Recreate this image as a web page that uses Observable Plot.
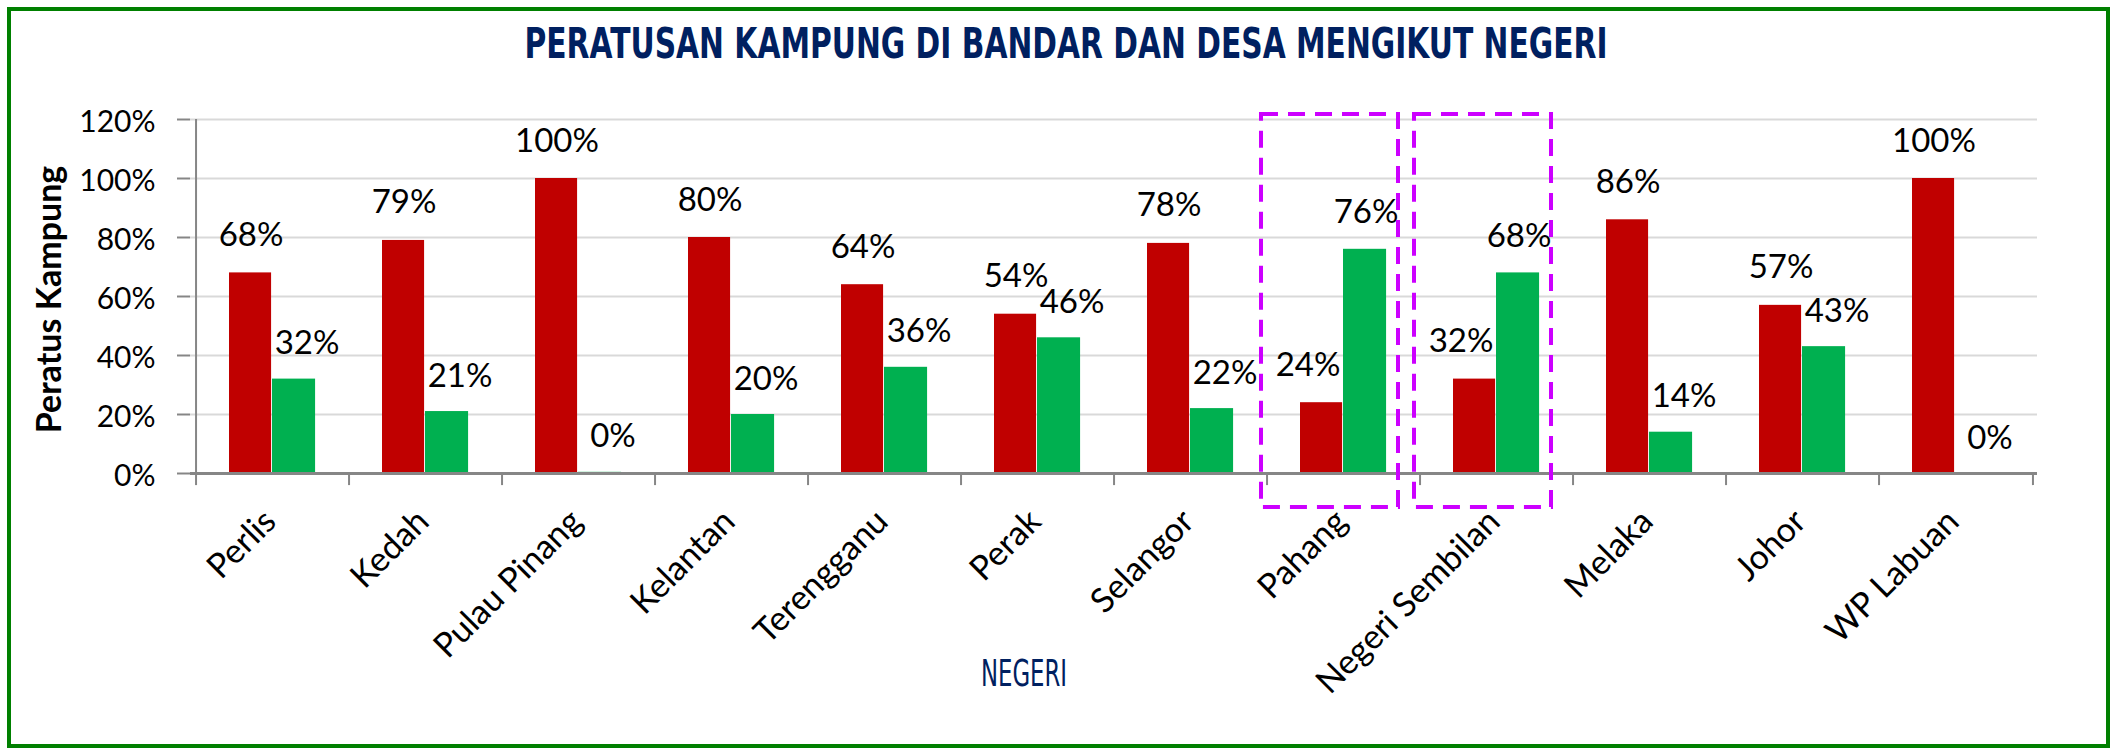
<!DOCTYPE html>
<html><head><meta charset="utf-8">
<script src="https://cdn.jsdelivr.net/npm/d3@7"></script>
<script src="https://cdn.jsdelivr.net/npm/@observablehq/plot@0.6"></script>
<style>
body{margin:0;background:#fff;}
#wrap{position:relative;width:2110px;height:748px;overflow:hidden;background:#fff;}
#chart{position:absolute;left:0;top:0;}
#overlay{position:absolute;left:0;top:0;pointer-events:none;}
#frame{position:absolute;left:7px;top:7px;width:2103px;height:741px;box-sizing:border-box;border:4px solid #008000;pointer-events:none;}
</style></head><body>
<div id="wrap"><div id="chart"></div><svg id="overlay" width="2110" height="748"></svg><div id="frame"></div></div>
<script>
// ---- data ----
const categories = ["Perlis","Kedah","Pulau Pinang","Kelantan","Terengganu","Perak","Selangor","Pahang","Negeri Sembilan","Melaka","Johor","WP Labuan"];
const bandar = [68,79,100,80,64,54,78,24,32,86,57,100];
const desa   = [32,21,0.4,20,36,46,22,76,68,14,43,0];
const yTicks = [0,20,40,60,80,100,120];
const highlighted = ["Pahang","Negeri Sembilan"];
const title = "PERATUSAN KAMPUNG DI BANDAR DAN DESA MENGIKUT NEGERI";
const xTitle = "NEGERI";
const yTitle = "Peratus Kampung";

// ---- layout ----
const W = 2110, H = 748, mL = 190, mR = 73, mT = 119, mB = 275;
const bw = (W - mL - mR) / categories.length;
const rows = categories.map((c, i) => ({negeri: c, bandar: bandar[i], desa: desa[i]}));
const pct = v => Math.round(v) + "%";
const isHi = d => highlighted.includes(d.negeri);
const axisColor = "#868686";

const chart = Plot.plot({
  width: W, height: H,
  marginLeft: mL, marginRight: mR, marginTop: mT, marginBottom: mB,
  style: {fontFamily: "Lato, 'Open Sans', sans-serif", background: "transparent", overflow: "visible"},
  x: {type: "band", domain: categories, padding: 0, axis: null},
  y: {domain: [0, 120], axis: null, label: null},
  marks: [
    Plot.gridY(yTicks.filter(d => d > 0), {stroke: "#d9d9d9", strokeOpacity: 1, strokeWidth: 2}),
    Plot.barY(rows, {x: "negeri", y: "bandar", fill: "#c00000", insetLeft: 33, insetRight: bw - 76}),
    Plot.barY(rows, {x: "negeri", y: "desa", fill: "#00b050", insetLeft: 76, insetRight: bw - 120}),
    // axis lines and ticks
    Plot.ruleY([0], {stroke: axisColor, strokeWidth: 3}),
    Plot.ruleX([categories[0]], {y1: 0, y2: 120, dx: -bw / 2, stroke: axisColor, strokeWidth: 2}),
    Plot.ruleX(categories, {y1: 0, y2: -4.1, dx: -bw / 2, stroke: axisColor, strokeWidth: 2}),
    Plot.ruleX([categories[categories.length - 1]], {y1: 0, y2: -4.1, dx: bw / 2, stroke: axisColor, strokeWidth: 2}),
    Plot.axisY({ticks: yTicks, tickSize: 13, tickFormat: () => "", stroke: axisColor, strokeWidth: 2, label: null}),
    Plot.axisY({ticks: yTicks, tickSize: 0, tickPadding: 35, tickFormat: d => d + "%", fontSize: 30, fill: "black", dy: 3, label: null}),
    // category labels
    Plot.text(categories, {x: d => d, y: 0, text: d => d, rotate: -45, textAnchor: "end", lineAnchor: "bottom", dx: 5, dy: 50, fontSize: 34, fill: "black"}),
    // data labels
    Plot.text(rows, {filter: d => !isHi(d), x: "negeri", y: "bandar", text: d => pct(d.bandar), lineAnchor: "bottom", dx: -22, dy: -27, fontSize: 33, fill: "black"}),
    Plot.text(rows, {filter: d => isHi(d), x: "negeri", y: "bandar", text: d => pct(d.bandar), lineAnchor: "bottom", dx: -36, dy: -27, fontSize: 33, fill: "black"}),
    Plot.text(rows, {filter: d => !isHi(d), x: "negeri", y: "desa", text: d => pct(d.desa), lineAnchor: "bottom", dx: 34, dy: -25, fontSize: 33, fill: "black"}),
    Plot.text(rows, {filter: d => isHi(d), x: "negeri", y: "desa", text: d => pct(d.desa), lineAnchor: "bottom", dx: 22, dy: -26, fontSize: 33, fill: "black"}),
    // y title
    Plot.text([yTitle], {frameAnchor: "left", text: d => d, rotate: -90, textAnchor: "middle", dx: 50 - mL, dy: 3, fontSize: 34, fontWeight: "bold", fill: "black"}),
    // highlight boxes
    Plot.barY(highlighted, {x: d => d, y1: -11.5, y2: 121.7, fill: "none", stroke: "#cc00ff", strokeWidth: 4, strokeDasharray: "17,10", insetLeft: -6, insetRight: 22})
  ]
});
document.getElementById("chart").appendChild(chart);

// ---- titles ----
const ov = d3.select("#overlay");
ov.append("text").text(title)
  .attr("x", 1066).attr("y", 58).attr("text-anchor", "middle")
  .attr("textLength", 1083).attr("lengthAdjust", "spacingAndGlyphs")
  .attr("font-family", "'DejaVu Sans', sans-serif").attr("font-weight", "bold").attr("font-size", 42)
  .attr("fill", "#002060");
ov.append("text").text(xTitle)
  .attr("x", 1024).attr("y", 686).attr("text-anchor", "middle")
  .attr("textLength", 86).attr("lengthAdjust", "spacingAndGlyphs")
  .attr("font-family", "'DejaVu Sans', sans-serif").attr("font-size", 38)
  .attr("fill", "#002060");
</script>
</body></html>
